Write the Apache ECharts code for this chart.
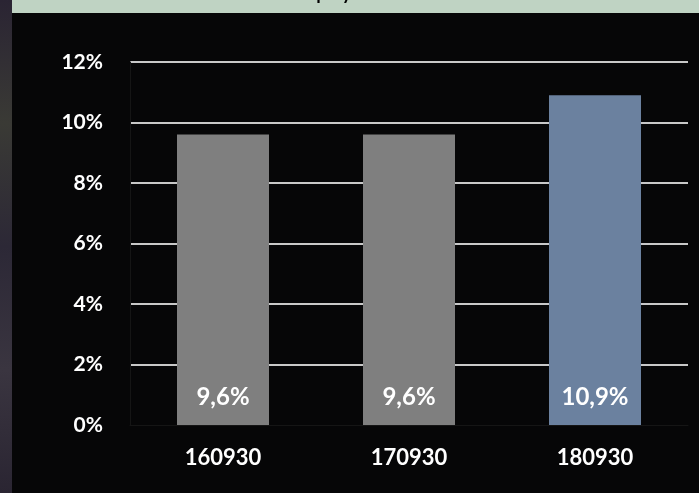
<!DOCTYPE html>
<html>
<head>
<meta charset="utf-8">
<script src="https://cdn.jsdelivr.net/npm/echarts@6/dist/echarts.min.js"></script>
<style>
html,body{margin:0;padding:0;background:#060607;}
#c{width:699px;height:493px;}
</style>
</head>
<body>
<div id="c"></div>
<script>
const categories = ['160930', '170930', '180930'];
const values = [9.6, 9.6, 10.9];
const barColors = ['#7f7f7f', '#7f7f7f', '#6b819f'];
const yTicks = [0, 2, 4, 6, 8, 10, 12];
const titleText = 'Equity';

const chart = echarts.init(document.getElementById('c'), null, {renderer: 'canvas'});
const fontFamily = 'Lato, "Open Sans", sans-serif';
chart.setOption({
  backgroundColor: '#060607',
  animation: false,
  graphic: [
    {type: 'rect', left: 0, top: 0, shape: {width: 12, height: 493},
     style: {fill: new echarts.graphic.LinearGradient(0, 0, 0, 1, [
       {offset: 0, color: '#2a2433'}, {offset: 0.25, color: '#3a3a35'},
       {offset: 0.5, color: '#2c2836'}, {offset: 0.75, color: '#3a3540'},
       {offset: 1, color: '#2a2532'}])}, z: -1},
    {type: 'rect', left: 12, top: 0, shape: {width: 687, height: 13}, style: {fill: '#bfd3c3'}, z: 1},
    {type: 'text', x: 326, y: 3, z: 2,
     style: {text: titleText, fill: '#000', font: 'bold 18px ' + fontFamily, align: 'center', verticalAlign: 'bottom'}}
  ],
  grid: {left: 130, right: 11, top: 62, bottom: 68, containLabel: false},
  xAxis: {
    type: 'category',
    data: categories,
    axisLine: {show: true, lineStyle: {color: '#151515', width: 1}},
    axisTick: {show: false},
    axisLabel: {color: '#fff', fontWeight: 'bold', fontSize: 22, fontFamily: fontFamily, margin: 22}
  },
  yAxis: {
    type: 'value',
    min: yTicks[0], max: yTicks[yTicks.length - 1], interval: 2,
    axisLine: {show: true, lineStyle: {color: '#151515', width: 1}},
    axisTick: {show: false},
    axisLabel: {color: '#fff', fontWeight: 'bold', fontSize: 21, fontFamily: fontFamily, margin: 27,
      formatter: v => v + '%'},
    splitLine: {show: true, showMinLine: false, lineStyle: {color: '#c8c8c8', width: 2}}
  },
  series: [{
    type: 'bar',
    barWidth: 92,
    data: values.map((v, i) => ({value: v, itemStyle: {color: barColors[i]}})),
    label: {
      show: true, position: 'insideBottom', distance: 16,
      color: '#fff', fontWeight: 'bold', fontSize: 24, fontFamily: fontFamily,
      formatter: p => p.value.toFixed(1).replace('.', ',') + '%'
    }
  }]
});
</script>
</body>
</html>
